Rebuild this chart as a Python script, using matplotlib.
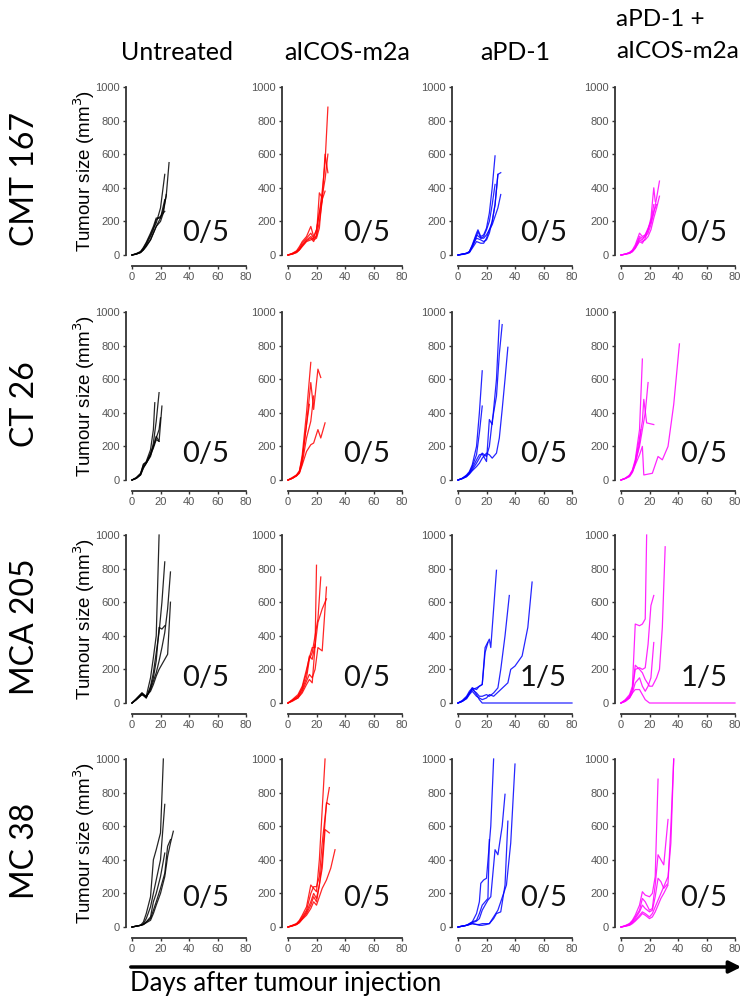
import matplotlib.pyplot as plt
from matplotlib.patches import FancyArrowPatch

# column / row labels
treatments = ["Untreated", "aICOS-m2a", "aPD-1", "aPD-1 +", "aICOS-m2a"]
models = ["CMT 167", "CT 26", "MCA 205", "MC 38"]
colors = ["#000000", "#ff0000", "#0000ff", "#ff00ff"]
tumour_free = [["0/5", "0/5", "0/5", "0/5"],
               ["0/5", "0/5", "0/5", "0/5"],
               ["0/5", "0/5", "1/5", "1/5"],
               ["0/5", "0/5", "0/5", "0/5"]]
x_ticks = [0, 20, 40, 60, 80]
y_ticks = [0, 200, 400, 600, 800, 1000]

# ---- CMT 167 ----
cmt167_untreated = [
    ([0, 3, 6, 8, 10, 13, 15, 17, 20, 23], [0, 8, 20, 40, 70, 120, 160, 190, 280, 480]),
    ([0, 3, 6, 8, 10, 13, 15, 17, 20, 22, 24, 26], [0, 5, 15, 30, 55, 90, 130, 170, 220, 270, 350, 550]),
    ([0, 3, 6, 8, 10, 13, 15, 17, 20, 23], [0, 8, 20, 45, 75, 130, 170, 220, 220, 330]),
    ([0, 3, 6, 8, 10, 13, 15, 17, 20, 23], [0, 6, 15, 35, 60, 110, 150, 210, 230, 260]),
    ([0, 3, 6, 8, 10, 13, 15, 17, 20, 22, 24], [0, 5, 15, 30, 50, 90, 130, 170, 200, 250, 360]),
]
cmt167_icos = [
    ([0, 3, 6, 8, 10, 13, 16, 18, 20, 22, 24, 26, 28], [0, 10, 25, 50, 80, 110, 170, 110, 150, 250, 380, 550, 880]),
    ([0, 3, 6, 8, 10, 13, 16, 18, 20, 22, 24, 26, 28], [0, 8, 20, 40, 70, 100, 130, 100, 110, 200, 320, 600, 490]),
    ([0, 3, 6, 8, 10, 13, 16, 18, 20, 22, 24, 26, 28], [0, 8, 20, 35, 60, 90, 110, 90, 100, 160, 350, 450, 600]),
    ([0, 3, 6, 8, 10, 13, 16, 18, 20, 22, 24], [0, 5, 15, 30, 55, 85, 100, 80, 120, 370, 340]),
    ([0, 3, 6, 8, 10, 13, 16, 18, 20, 22, 24, 26], [0, 5, 15, 30, 50, 80, 90, 100, 150, 250, 330, 380]),
]
cmt167_pd1 = [
    ([0, 3, 6, 8, 10, 13, 14, 16, 18, 20, 22, 24, 26], [0, 5, 10, 20, 60, 130, 150, 110, 120, 160, 250, 400, 590]),
    ([0, 3, 6, 8, 10, 13, 14, 16, 18, 20, 22, 24, 26, 28, 30], [0, 5, 10, 15, 50, 110, 140, 100, 100, 120, 150, 200, 300, 480, 490]),
    ([0, 3, 6, 8, 10, 13, 16, 18, 20, 22, 24, 26, 28], [0, 5, 10, 20, 50, 100, 90, 80, 90, 130, 200, 300, 480]),
    ([0, 3, 6, 8, 10, 13, 16, 18, 20, 22, 24, 26, 28, 30], [0, 3, 8, 15, 40, 80, 70, 70, 100, 150, 180, 230, 280, 360]),
    ([0, 3, 6, 8, 10, 13, 16, 18, 20, 22, 24, 26], [0, 5, 10, 20, 55, 120, 100, 110, 150, 200, 300, 420]),
]
cmt167_combo = [
    ([0, 3, 6, 8, 10, 13, 15, 17, 19, 21, 23, 24], [0, 5, 15, 30, 60, 130, 110, 120, 150, 220, 400, 320]),
    ([0, 3, 6, 8, 10, 13, 15, 17, 19, 21, 23, 25, 27], [0, 5, 12, 25, 50, 110, 100, 110, 130, 180, 250, 340, 440]),
    ([0, 3, 6, 8, 10, 13, 15, 17, 19, 21, 23, 25, 27], [0, 5, 10, 20, 40, 90, 80, 90, 110, 150, 220, 280, 350]),
    ([0, 3, 6, 8, 10, 13, 15, 17, 19, 21, 23], [0, 5, 10, 20, 40, 80, 70, 100, 150, 200, 300]),
    ([0, 3, 6, 8, 10, 13, 15, 17, 19, 21, 23, 25], [0, 5, 15, 25, 45, 100, 90, 120, 160, 200, 260, 300]),
]

# ---- CT 26 ----
ct26_untreated = [
    ([0, 3, 6, 8, 10, 13, 15, 16], [0, 15, 40, 90, 110, 180, 300, 460]),
    ([0, 3, 6, 8, 10, 13, 15, 17, 19], [0, 10, 35, 80, 100, 150, 220, 350, 520]),
    ([0, 3, 6, 8, 10, 13, 15, 17, 19, 21], [0, 10, 30, 70, 100, 140, 200, 260, 230, 440]),
    ([0, 3, 6, 8, 10, 13, 15, 17, 19, 20], [0, 12, 35, 95, 105, 160, 200, 250, 300, 370]),
    ([0, 3, 6, 8, 10, 13, 15, 17, 19], [0, 10, 30, 75, 100, 150, 190, 240, 230]),
]
ct26_icos = [
    ([0, 3, 6, 8, 10, 13, 16], [0, 15, 30, 50, 150, 400, 700]),
    ([0, 3, 6, 8, 10, 13, 16, 18, 21, 23], [0, 10, 25, 45, 120, 330, 580, 420, 660, 610]),
    ([0, 3, 6, 8, 10, 13, 16, 18, 21, 23, 26], [0, 10, 25, 40, 90, 170, 210, 220, 300, 250, 340]),
    ([0, 3, 6, 8, 10, 13, 15], [0, 10, 30, 55, 130, 330, 450]),
    ([0, 3, 6, 8, 10, 13, 16, 18], [0, 10, 25, 45, 100, 250, 350, 500]),
]
ct26_pd1 = [
    ([0, 3, 6, 8, 10, 13, 15, 17], [0, 10, 30, 50, 90, 200, 400, 650]),
    ([0, 3, 6, 8, 10, 13, 15, 17], [0, 10, 25, 45, 80, 150, 280, 440]),
    ([0, 3, 6, 8, 10, 13, 15, 17, 20, 22, 24, 27, 29], [0, 10, 25, 40, 70, 120, 150, 155, 110, 360, 330, 600, 950]),
    ([0, 3, 6, 8, 10, 13, 15, 17, 20, 22, 24, 27, 29, 31], [0, 8, 20, 40, 60, 100, 130, 160, 140, 200, 350, 500, 750, 925]),
    ([0, 3, 6, 8, 10, 13, 15, 17, 20, 22, 24, 27, 29, 31, 33, 35], [0, 8, 20, 35, 55, 80, 100, 130, 160, 150, 130, 160, 250, 420, 600, 790]),
]
ct26_combo = [
    ([0, 3, 6, 8, 10, 13, 15], [0, 10, 30, 60, 120, 300, 720]),
    ([0, 3, 6, 8, 10, 13, 15, 17, 19], [0, 10, 25, 50, 100, 200, 300, 400, 580]),
    ([0, 3, 6, 8, 10, 13, 15, 16, 18, 23], [0, 10, 25, 55, 110, 250, 350, 480, 340, 330]),
    ([0, 3, 6, 8, 10, 13, 15, 16, 22, 26, 29, 33, 37, 41], [0, 8, 20, 45, 90, 150, 200, 30, 40, 140, 120, 200, 450, 810]),
    ([0, 3, 6, 8, 10, 13, 14], [0, 10, 25, 50, 100, 220, 300]),
]

# ---- MCA 205 ----
mca205_untreated = [
    ([0, 3, 7, 10, 13, 15, 17, 19], [0, 25, 60, 40, 150, 270, 400, 1000]),
    ([0, 3, 7, 10, 13, 15, 17, 19, 21, 23], [0, 20, 50, 30, 100, 180, 300, 420, 600, 840]),
    ([0, 3, 7, 10, 13, 15, 17, 19, 21, 23, 25, 27], [0, 20, 55, 35, 80, 130, 180, 250, 330, 420, 560, 780]),
    ([0, 3, 7, 10, 13, 15, 17, 19, 21, 23, 25, 27], [0, 20, 50, 40, 70, 110, 160, 200, 230, 260, 290, 600]),
    ([0, 3, 7, 10, 13, 15, 17, 19, 21, 23], [0, 25, 60, 30, 90, 150, 250, 450, 440, 460]),
]
mca205_icos = [
    ([0, 3, 7, 10, 13, 15, 17, 19, 20], [0, 20, 50, 100, 200, 270, 330, 330, 820]),
    ([0, 3, 7, 10, 13, 15, 17, 19, 21, 23], [0, 15, 40, 80, 150, 260, 300, 400, 500, 750]),
    ([0, 3, 7, 10, 13, 15, 17, 19, 21, 24, 27], [0, 15, 30, 70, 130, 170, 150, 200, 330, 310, 690]),
    ([0, 3, 7, 10, 13, 15, 17, 19, 21, 24, 27], [0, 10, 30, 60, 110, 140, 120, 340, 480, 560, 620]),
    ([0, 3, 7, 10, 13, 15, 17, 19], [0, 15, 40, 90, 180, 280, 260, 350]),
]
mca205_pd1 = [
    ([0, 3, 6, 8, 10, 13, 15, 17, 19, 22, 23, 27], [0, 15, 40, 70, 90, 80, 100, 110, 330, 380, 330, 790]),
    ([0, 3, 6, 8, 10, 13, 15, 17, 20, 22, 25, 28, 30, 33, 36], [0, 10, 30, 60, 80, 60, 40, 40, 50, 40, 60, 90, 200, 400, 640]),
    ([0, 3, 6, 8, 10, 13, 15, 17, 20, 22, 25, 30, 35, 37, 40, 45, 49, 52], [0, 10, 25, 50, 70, 40, 30, 20, 30, 50, 40, 80, 120, 200, 220, 280, 450, 720]),
    ([0, 3, 6, 8, 10, 13, 15, 17, 20, 80], [0, 10, 30, 55, 90, 50, 20, 0, 0, 0]),
    ([0, 3, 6, 8, 10, 13, 15, 17, 19, 21], [0, 12, 35, 60, 80, 90, 100, 110, 300, 360]),
]
mca205_combo = [
    ([0, 3, 6, 8, 10, 13, 15, 17, 18], [0, 20, 50, 100, 470, 460, 470, 500, 1000]),
    ([0, 3, 6, 8, 10, 13, 15, 17, 20, 22, 25, 27, 29, 31], [0, 15, 40, 80, 225, 200, 180, 140, 100, 100, 150, 200, 450, 930]),
    ([0, 3, 6, 8, 10, 13, 15, 17, 19, 21, 23], [0, 15, 40, 80, 200, 210, 200, 210, 350, 580, 640]),
    ([0, 3, 6, 8, 10, 13, 15, 17, 19, 21, 23], [0, 10, 30, 60, 120, 150, 100, 70, 100, 150, 360]),
    ([0, 3, 6, 8, 10, 13, 15, 17, 20, 80], [0, 10, 30, 60, 80, 80, 50, 20, 0, 0]),
]

# ---- MC 38 ----
mc38_untreated = [
    ([0, 3, 6, 8, 10, 13, 15, 17, 20, 22], [0, 5, 10, 30, 80, 180, 400, 460, 560, 1000]),
    ([0, 3, 6, 8, 10, 13, 15, 17, 20, 23], [0, 5, 10, 20, 50, 120, 200, 280, 400, 730]),
    ([0, 3, 6, 8, 10, 13, 15, 17, 20, 23], [0, 5, 10, 15, 30, 60, 150, 200, 300, 440]),
    ([0, 3, 6, 8, 10, 13, 15, 17, 20, 23, 25, 27], [0, 5, 10, 15, 30, 50, 100, 150, 230, 320, 480, 520]),
    ([0, 3, 6, 8, 10, 13, 15, 17, 20, 23, 25, 27, 29], [0, 5, 10, 15, 25, 40, 80, 130, 200, 300, 420, 500, 570]),
]
mc38_icos = [
    ([0, 3, 6, 8, 10, 13, 16, 18, 20, 22, 24, 26], [0, 10, 20, 40, 70, 120, 250, 230, 210, 400, 700, 1000]),
    ([0, 3, 6, 8, 10, 13, 16, 18, 20, 22, 24, 27, 29], [0, 8, 20, 35, 60, 100, 200, 240, 240, 300, 500, 730, 830]),
    ([0, 3, 6, 8, 10, 13, 16, 18, 20, 22, 24, 27, 29], [0, 8, 15, 30, 50, 90, 150, 200, 170, 250, 400, 740, 730]),
    ([0, 3, 6, 8, 10, 13, 16, 18, 20, 22, 24, 26, 29], [0, 8, 15, 30, 50, 80, 130, 180, 150, 250, 350, 580, 560]),
    ([0, 3, 6, 8, 10, 13, 16, 18, 20, 22, 24, 27, 30, 33], [0, 5, 15, 25, 45, 70, 110, 150, 130, 180, 230, 280, 350, 460]),
]
mc38_pd1 = [
    ([0, 3, 6, 8, 10, 13, 15, 16, 18, 20, 23, 25], [0, 5, 10, 20, 30, 80, 150, 260, 280, 290, 600, 1000]),
    ([0, 3, 6, 8, 10, 13, 15, 17, 19, 21, 22], [0, 5, 10, 20, 30, 40, 80, 130, 150, 170, 520]),
    ([0, 3, 6, 8, 10, 13, 15, 17, 19, 21, 23, 26, 28, 31, 33], [0, 5, 10, 15, 25, 35, 50, 100, 130, 160, 180, 460, 430, 600, 790]),
    ([0, 3, 6, 8, 10, 13, 15, 17, 20, 22, 25, 27, 30, 33, 35], [0, 5, 10, 15, 20, 15, 10, 10, 15, 20, 50, 80, 90, 250, 630]),
    ([0, 3, 6, 8, 10, 13, 15, 17, 20, 22, 25, 28, 30, 34, 37, 40], [0, 5, 10, 15, 20, 15, 15, 20, 20, 20, 60, 100, 150, 250, 500, 970]),
]
mc38_combo = [
    ([0, 3, 6, 8, 10, 13, 15, 17, 20, 22, 24, 26], [0, 8, 20, 40, 70, 130, 210, 190, 180, 200, 300, 880]),
    ([0, 3, 6, 8, 10, 13, 15, 17, 20, 22, 24, 26, 28, 30, 33], [0, 8, 20, 35, 60, 100, 170, 150, 100, 110, 250, 430, 400, 370, 640]),
    ([0, 3, 6, 8, 10, 13, 15, 17, 20, 22, 24, 26, 28, 30, 33, 35, 37], [0, 5, 15, 30, 50, 90, 130, 110, 90, 100, 180, 290, 270, 230, 260, 600, 1000]),
    ([0, 3, 6, 8, 10, 13, 15, 17, 20, 22, 24, 26, 28, 30, 33, 35, 37], [0, 5, 12, 25, 40, 70, 90, 80, 60, 80, 120, 160, 200, 240, 300, 500, 1000]),
    ([0, 3, 6, 8, 10, 13, 15, 17, 20, 22, 24, 26, 28, 30, 33], [0, 5, 10, 20, 35, 60, 80, 70, 50, 60, 90, 130, 170, 200, 250]),
]

panels = [
    [cmt167_untreated, cmt167_icos, cmt167_pd1, cmt167_combo],
    [ct26_untreated, ct26_icos, ct26_pd1, ct26_combo],
    [mca205_untreated, mca205_icos, mca205_pd1, mca205_combo],
    [mc38_untreated, mc38_icos, mc38_pd1, mc38_combo],
]

FW, FH = 744, 1001
fig = plt.figure(figsize=(FW / 100, FH / 100), dpi=100)

title_font = ["Lato", "DejaVu Sans"]
tick_font = ["Liberation Sans", "DejaVu Sans"]

# panel placement in pixels
col_x0 = [132, 288, 458, 621]
row_top = [87, 312, 535, 759]
pw, ph = 114, 168
note_x = [52, 55, 60, 58]
note_y = [131, 155, 149, 173]

for r in range(4):
    for c in range(4):
        ax = fig.add_axes([col_x0[c] / FW, 1 - (row_top[r] + ph) / FH, pw / FW, ph / FH])
        for days, size in panels[r][c]:
            ax.plot(days, size, color=colors[c], lw=0.9, alpha=0.85, clip_on=False)
        ax.set_xlim(0, 80)
        ax.set_ylim(0, 1000)
        ax.set_xticks(x_ticks)
        ax.set_yticks(y_ticks)
        ax.spines['top'].set_visible(False)
        ax.spines['right'].set_visible(False)
        ax.spines['left'].set_position(('outward', 4.5))
        ax.spines['bottom'].set_position(('outward', 8))
        ax.spines['left'].set_bounds(0, 1000)
        ax.spines['bottom'].set_bounds(0, 80)
        for s in ['left', 'bottom']:
            ax.spines[s].set_linewidth(1.3)
            ax.spines[s].set_color('#333333')
        ax.tick_params(length=2.5, width=1.0, color='#333333', labelcolor='#555555',
                       labelsize=8, pad=1.5)
        for lab in ax.get_xticklabels() + ax.get_yticklabels():
            lab.set_family(tick_font)
        ax.text(note_x[c], note_y[r], tumour_free[r][c], ha='center', va='center',
                fontsize=21, family=title_font, color='#111111')

# column titles
title_x = [177, 347, 515]
for c in range(3):
    fig.text(title_x[c] / FW, 1 - 52 / FH, treatments[c], ha='center', va='center',
             fontsize=18, family=title_font)
fig.text(616 / FW, 1 - 20 / FH, treatments[3], ha='left', va='center',
         fontsize=17.5, family=title_font)
fig.text(616 / FW, 1 - 52 / FH, treatments[4], ha='left', va='center',
         fontsize=17.5, family=title_font)

# row labels and y labels
for r in range(4):
    yc = row_top[r] + ph / 2
    fig.text(25 / FW, 1 - (yc + 8) / FH, models[r], rotation=90, ha='center', va='center',
             fontsize=23, family=title_font)
    fig.text(84 / FW, 1 - yc / FH, 'Tumour size (mm$^3$)', rotation=90, ha='center',
             va='center', fontsize=13.5, family=tick_font)

# shared x label with arrow
arrow = FancyArrowPatch((128 / FW, 1 - 967 / FH), (744 / FW, 1 - 967 / FH),
                        transform=fig.transFigure, arrowstyle='-|>', mutation_scale=18,
                        lw=2.5, color='black')
fig.add_artist(arrow)
fig.text(130 / FW, 1 - 983 / FH, 'Days after tumour injection', ha='left', va='center',
         fontsize=18.5, family=title_font)

fig.savefig('out.png', dpi=100)
